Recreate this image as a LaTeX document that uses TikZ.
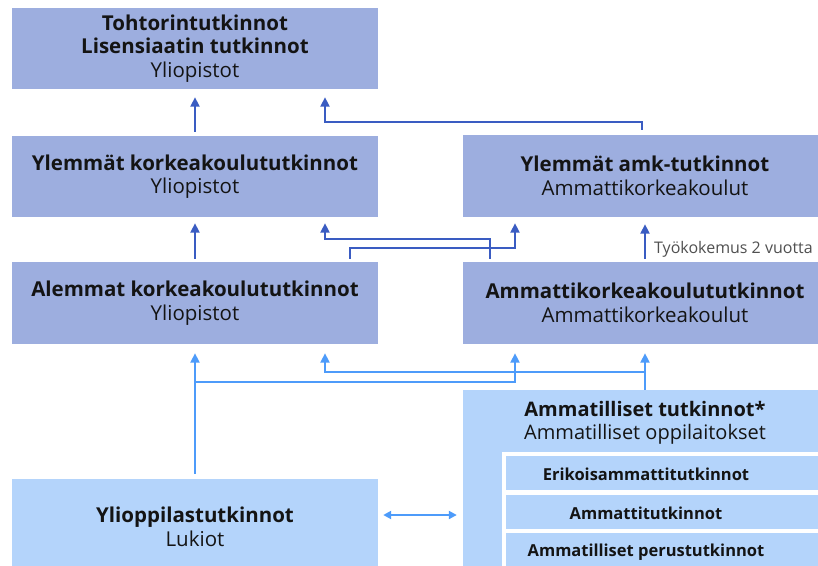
\documentclass[tikz,border=0pt]{standalone}
\usepackage{fontspec}
\setmainfont{Open Sans}
\usetikzlibrary{arrows.meta}
\definecolor{boxdark}{HTML}{9DAEDF}
\definecolor{boxlight}{HTML}{B4D4FB}
\definecolor{arrdark}{HTML}{3A5CC2}
\definecolor{arrlight}{HTML}{4D9BFA}
\definecolor{txt}{HTML}{141414}
\definecolor{note}{HTML}{505050}
\begin{document}
\begin{tikzpicture}[x=1pt,y=-1pt,
  box/.style={rectangle, inner sep=0pt, align=center, text=txt,
    font=\bfseries\fontsize{20.5}{23.5}\selectfont},
  dbox/.style={box, fill=boxdark, minimum height=81pt},
  lbox/.style={box, fill=boxlight},
  innerbox/.style={rectangle, inner sep=0pt, fill=boxlight, draw=white, line width=4pt,
    minimum width=326pt, minimum height=38pt},
  innertext/.style={inner sep=0pt, text=txt, font=\bfseries\fontsize{16.5}{20}\selectfont},
  mytip/.tip={Triangle[width=9pt,length=9.5pt]},
  smalltip/.tip={Triangle[width=8pt,length=8pt]},
  darr/.style={draw=arrdark, line width=2pt, -{mytip}},
  larr/.style={draw=arrlight, line width=2pt, -{mytip}},
  notetext/.style={inner sep=0pt, text=note, font=\fontsize{16}{18}\selectfont}
]
\clip (0,0) rectangle (818,565);
\fill[white] (0,0) rectangle (818,565);

% boxes
\node[dbox, minimum width=366pt] (toh) at (195,48.5)
  {Tohtorintutkinnot\\Lisensiaatin tutkinnot\\{\mdseries Yliopistot}};
\node[dbox, minimum width=366pt] (ylk) at (195,176.5)
  {Ylemmät korkeakoulututkinnot\\{\mdseries Yliopistot}};
\node[dbox, minimum width=364pt, minimum height=82pt] (yamk) at (645,176)
  {Ylemmät amk-tutkinnot\\{\mdseries Ammattikorkeakoulut}};
\node[dbox, minimum width=366pt, minimum height=82pt] (alk) at (195,303)
  {Alemmat korkeakoulututkinnot\\{\mdseries Yliopistot}};
\node[dbox, minimum width=364pt, minimum height=82pt] (amk) at (645,303)
  {Ammattikorkeakoulututkinnot\\{\mdseries Ammattikorkeakoulut}};
\node[lbox, minimum width=366pt, minimum height=96pt] (ylio) at (195,527)
  {Ylioppilastutkinnot\\{\mdseries Lukiot}};
\node[lbox, minimum width=367pt, minimum height=180pt] (amm) at (646.5,480) {};
\node[box, font=\bfseries\fontsize{20}{23.5}\selectfont] (ammtxt) at (645,423)
  {Ammatilliset tutkinnot*\\{\mdseries Ammatilliset oppilaitokset}};

\node[innerbox] (eri) at (667,473.25) {};
\node[innerbox] (ammtut) at (667,511.5) {};
\node[innerbox, minimum height=40pt] (per) at (667,551) {};
\node[innertext] (eritxt) at (646,474) {Erikoisammattitutkinnot};
\node[innertext] (ammtuttxt) at (646,513) {Ammattitutkinnot};
\node[innertext] (pertxt) at (646,552) {Ammatilliset perustutkinnot};

% dark connectors
\draw[darr, shorten <=4pt, shorten >=8pt] (ylk.north) -- (toh.south);
\draw[darr, shorten <=5pt, shorten >=8pt] ([xshift=-3pt]yamk.north) -- ++(0,-13)
  -| ([xshift=130pt]toh.south);
\draw[darr, shorten <=3pt, shorten >=6pt] (alk.north) -- (ylk.south);
\draw[darr, shorten <=3pt, shorten >=6pt] ([xshift=-155pt]amk.north) -- ++(0,-23)
  -| ([xshift=130pt]ylk.south);
\draw[darr, shorten <=3pt, shorten >=6pt] ([xshift=155pt]alk.north) -- ++(0,-14)
  -| ([xshift=-130pt]yamk.south);
\draw[darr, shorten <=3pt, shorten >=7pt] (amk.north) -- (yamk.south);
\node[notetext, anchor=base west] (tyo) at (654,253) {Työkokemus 2 vuotta};

% light connectors
\draw[larr, shorten <=5pt, shorten >=9pt] (ylio.north) -- (alk.south);
\draw[larr, shorten >=9pt] ([yshift=97pt]ylio.north) -| ([xshift=-130pt]amk.south);
\draw[larr, shorten >=9pt] (amm.north -| amk.south) -- (amk.south);
\draw[larr, shorten >=9pt] ([yshift=-28pt]amk.south) -| ([xshift=130pt]alk.south);
\coordinate (dy) at (0,515);
\draw[larr, {smalltip}-{smalltip}, shorten <=5pt, shorten >=6pt]
  (ylio.east |- dy) -- (amm.west |- dy);
\end{tikzpicture}
\end{document}
